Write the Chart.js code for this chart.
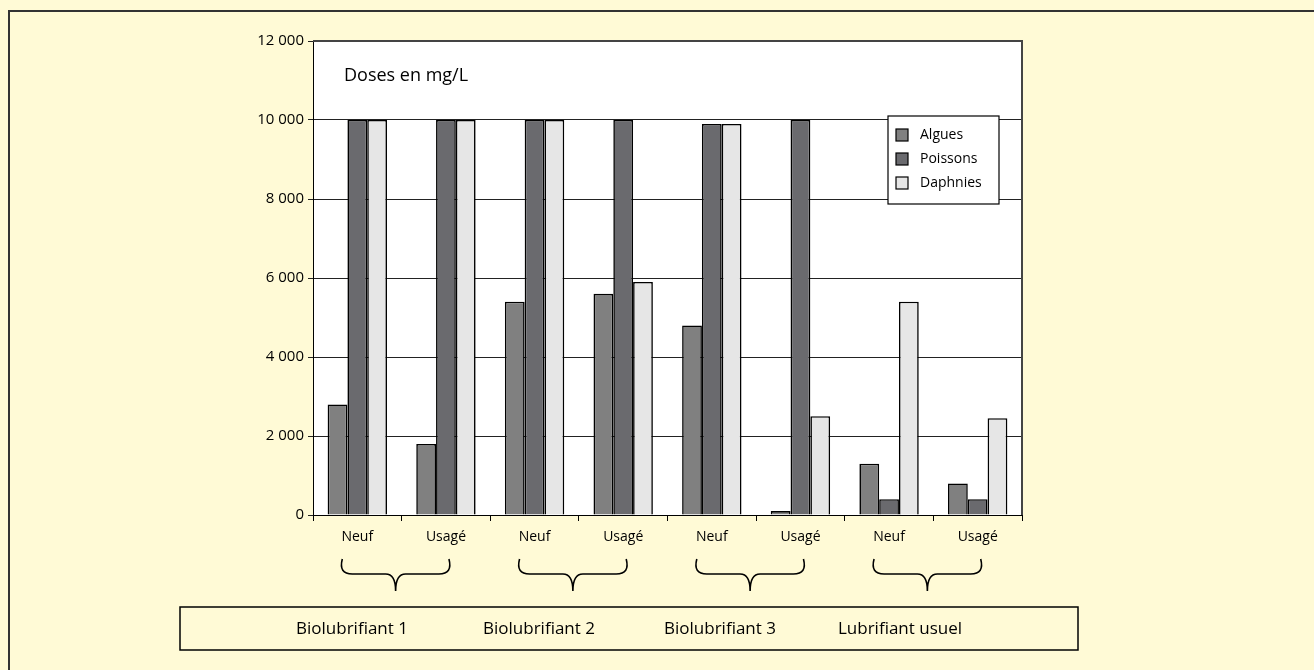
<!DOCTYPE html>
<html>
<head>
<meta charset="utf-8">
<script src="https://cdn.jsdelivr.net/npm/chart.js@4/dist/chart.umd.min.js"></script>
<style>
  html, body { margin: 0; padding: 0; background: #fffad6; }
  canvas { display: block; }
</style>
</head>
<body>
<canvas id="bar-chart" width="1314" height="670"></canvas>
<script>
// donnees
var categories = ['Neuf', 'Usagé', 'Neuf', 'Usagé', 'Neuf', 'Usagé', 'Neuf', 'Usagé'];
var groups = ['Biolubrifiant 1', 'Biolubrifiant 2', 'Biolubrifiant 3', 'Lubrifiant usuel'];
var algues = [2800, 1800, 5400, 5600, 4800, 100, 1300, 800];
var poissons = [10000, 10000, 10000, 10000, 9900, 10000, 400, 400];
var daphnies = [10000, 10000, 10000, 5900, 9900, 2500, 5400, 2450];
var yMax = 12000;
var yStep = 2000;
var unitLabel = 'Doses en mg/L';

var FONT = '"Open Sans", "DejaVu Sans", sans-serif';

function fmt(v) {
    return String(v).replace(/\B(?=(\d{3})+(?!\d))/g, ' ');
}

// fond, cadre, legende, accolades
var decor = {
    id: 'decor',
    beforeDraw: function (chart) {
        var c = chart.ctx, a = chart.chartArea;
        c.save();
        c.fillStyle = '#fffad6';
        c.fillRect(0, 0, chart.width, chart.height);
        c.strokeStyle = '#333';
        c.lineWidth = 2;
        c.beginPath();
        c.moveTo(9, chart.height);
        c.lineTo(9, 11);
        c.lineTo(chart.width, 11);
        c.stroke();
        c.fillStyle = '#fff';
        c.fillRect(a.left, a.top, a.right - a.left, a.bottom - a.top);
        c.restore();
    },
    afterDraw: function (chart) {
        var c = chart.ctx, a = chart.chartArea, x = chart.scales.x;
        c.save();
        // bord haut et droit
        c.strokeStyle = '#444';
        c.lineWidth = 2;
        c.beginPath();
        c.moveTo(a.left, a.top);
        c.lineTo(a.right, a.top);
        c.lineTo(a.right, a.bottom);
        c.stroke();

        c.fillStyle = '#000';
        c.font = '18px ' + FONT;
        c.textBaseline = 'middle';
        c.fillText(unitLabel, a.left + 31, a.top + 35);

        // legende
        var lx = a.right - 134, ly = a.top + 75;
        c.fillStyle = '#fff';
        c.fillRect(lx, ly, 111, 88);
        c.strokeStyle = '#000';
        c.lineWidth = 1.2;
        c.strokeRect(lx, ly, 111, 88);
        c.font = '14px ' + FONT;
        chart.data.datasets.forEach(function (ds, i) {
            var yy = ly + 19 + i * 24;
            c.fillStyle = ds.backgroundColor;
            c.fillRect(lx + 8, yy - 6, 12, 12);
            c.strokeRect(lx + 8, yy - 6, 12, 12);
            c.fillStyle = '#000';
            c.fillText(ds.label, lx + 32, yy);
        });

        // accolades
        c.strokeStyle = '#000';
        c.lineWidth = 1.6;
        groups.forEach(function (g, i) {
            var x0 = x.getPixelForValue(i * 2) - 17;
            var x1 = x.getPixelForValue(i * 2 + 1) + 5;
            var xm = (x0 + x1) / 2;
            var yt = 559, yh = 574, yb = 591;
            c.beginPath();
            c.moveTo(x0 + 2, yt);
            c.quadraticCurveTo(x0 - 2, yh, x0 + 12, yh);
            c.lineTo(xm - 10, yh);
            c.quadraticCurveTo(xm, yh, xm, yb);
            c.quadraticCurveTo(xm, yh, xm + 10, yh);
            c.lineTo(x1 - 12, yh);
            c.quadraticCurveTo(x1 + 2, yh, x1 - 2, yt);
            c.stroke();
        });

        // boite des produits
        c.lineWidth = 1.5;
        c.strokeRect(180, 607, 898, 43);
        c.fillStyle = '#000';
        c.font = '17px ' + FONT;
        c.textAlign = 'center';
        var centers = [352, 539, 720, 900];
        groups.forEach(function (g, i) {
            c.fillText(g, centers[i], 629);
        });
        c.restore();
    }
};

function showBarChart() {
    var ctx = document.getElementById('bar-chart');
    new Chart(ctx, {
        type: 'bar',
        data: {
            labels: categories,
            datasets: [
                { label: 'Algues', data: algues, backgroundColor: '#808080' },
                { label: 'Poissons', data: poissons, backgroundColor: '#6a6a6e' },
                { label: 'Daphnies', data: daphnies, backgroundColor: '#e6e6e6' }
            ]
        },
        options: {
            responsive: false,
            animation: false,
            devicePixelRatio: 1,
            layout: { padding: { left: 0, top: 41, right: 292, bottom: 0 } },
            datasets: {
                bar: {
                    borderColor: '#000',
                    borderWidth: 1.6,
                    categoryPercentage: 0.67,
                    barPercentage: 1
                }
            },
            plugins: {
                legend: { display: false },
                tooltip: { enabled: false }
            },
            scales: {
                x: {
                    afterFit: function (s) { s.height = 155; },
                    grid: { drawOnChartArea: false, offset: true, tickLength: 6, color: '#000' },
                    border: { color: '#000', width: 1 },
                    ticks: { color: '#000', font: { family: FONT, size: 14 }, padding: 8 }
                },
                y: {
                    min: 0,
                    max: yMax,
                    afterFit: function (s) { s.width = 313; },
                    grid: { color: '#222', lineWidth: 1, tickLength: 5 },
                    border: { color: '#000', width: 1 },
                    ticks: {
                        stepSize: yStep,
                        color: '#000',
                        font: { family: FONT, size: 15 },
                        padding: 4,
                        callback: function (v) { return fmt(v); }
                    }
                }
            }
        },
        plugins: [decor]
    });
}

showBarChart();
</script>
</body>
</html>
